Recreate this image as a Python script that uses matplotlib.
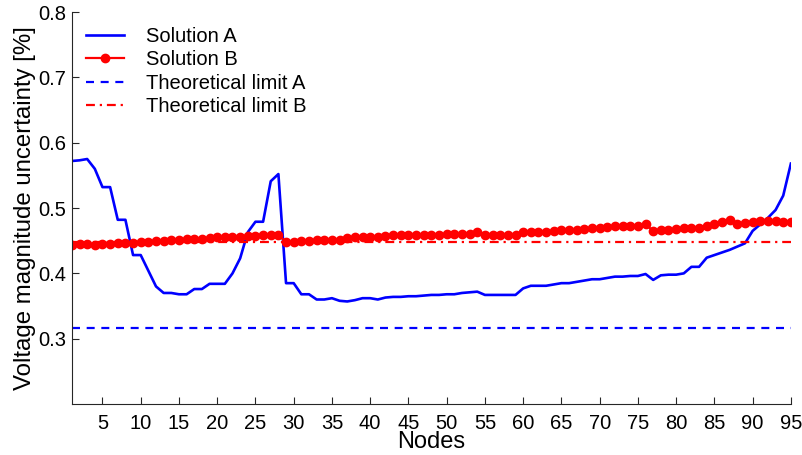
import numpy as np
import matplotlib
matplotlib.use("Agg")
import matplotlib.pyplot as plt

plt.rcParams['font.family'] = ['Liberation Sans', 'DejaVu Sans']

# voltage magnitude uncertainty per node [%]
nodes = np.arange(1, 96)

sol_a = [0.572, 0.573, 0.575, 0.560, 0.532, 0.532, 0.482, 0.482, 0.428, 0.428,
         0.404, 0.380, 0.370, 0.370, 0.368, 0.368, 0.376, 0.376, 0.384, 0.384,
         0.384, 0.400, 0.423, 0.463, 0.479, 0.479, 0.541, 0.552, 0.385, 0.385,
         0.368, 0.368, 0.360, 0.360, 0.362, 0.358, 0.357, 0.359, 0.362, 0.362,
         0.360, 0.363, 0.364, 0.364, 0.365, 0.365, 0.366, 0.367, 0.367, 0.368,
         0.368, 0.370, 0.371, 0.372, 0.367, 0.367, 0.367, 0.367, 0.367, 0.377,
         0.381, 0.381, 0.381, 0.383, 0.385, 0.385, 0.387, 0.389, 0.391, 0.391,
         0.393, 0.395, 0.395, 0.396, 0.396, 0.399, 0.390, 0.397, 0.398, 0.398,
         0.400, 0.410, 0.410, 0.424, 0.428, 0.432, 0.436, 0.441, 0.446, 0.465,
         0.475, 0.485, 0.497, 0.519, 0.568]

sol_b = [0.443, 0.445, 0.445, 0.444, 0.445, 0.445, 0.446, 0.446, 0.447, 0.448,
         0.448, 0.449, 0.450, 0.451, 0.451, 0.452, 0.452, 0.453, 0.454, 0.455,
         0.455, 0.456, 0.456, 0.457, 0.457, 0.458, 0.458, 0.459, 0.448, 0.448,
         0.449, 0.449, 0.451, 0.451, 0.451, 0.451, 0.454, 0.455, 0.456, 0.456,
         0.456, 0.457, 0.458, 0.458, 0.458, 0.458, 0.459, 0.459, 0.459, 0.460,
         0.460, 0.461, 0.461, 0.463, 0.459, 0.458, 0.458, 0.458, 0.458, 0.463,
         0.464, 0.464, 0.464, 0.465, 0.466, 0.466, 0.467, 0.468, 0.469, 0.470,
         0.471, 0.472, 0.473, 0.473, 0.473, 0.475, 0.465, 0.467, 0.467, 0.468,
         0.469, 0.470, 0.470, 0.473, 0.476, 0.479, 0.481, 0.476, 0.477, 0.479,
         0.480, 0.480, 0.480, 0.479, 0.479]

limit_a = 0.316
limit_b = 0.448

xticks = np.arange(5, 96, 5)
yticks = [0.3, 0.4, 0.5, 0.6, 0.7, 0.8]

fig = plt.figure(figsize=(8.03, 4.55), dpi=100)
ax = fig.add_axes([0.0895, 0.112, 0.8954, 0.8616])

ax.plot(nodes, sol_a, color='#0000ff', lw=1.9, label='Solution A')
ax.plot(nodes, sol_b, color='#ff0000', lw=1.6, marker='o', ms=6,
        label='Solution B')
ax.plot(nodes, np.full(len(nodes), limit_a), color='#0000ff', lw=1.6,
        ls=(0, (3.6, 3.0)), label='Theoretical limit A')
ax.plot(nodes, np.full(len(nodes), limit_b), color='#ff0000', lw=1.6,
        ls=(0, (4.0, 2.2, 1.0, 2.2)), label='Theoretical limit B')

ax.set_xlim(1, 95)
ax.set_ylim(0.2, 0.8)
ax.set_xticks(xticks)
ax.set_yticks(yticks)
ax.set_yticklabels(['%.1f' % v for v in yticks])

for side in ['top', 'right']:
    ax.spines[side].set_visible(False)
for side in ['left', 'bottom']:
    ax.spines[side].set_color('#262626')
    ax.spines[side].set_linewidth(0.8)
ax.tick_params(direction='in', length=5, width=0.8, color='#262626',
               labelsize=14.5)
ax.tick_params(axis='x', pad=7)
ax.tick_params(axis='y', pad=4)

ax.set_xlabel('Nodes', fontsize=17, labelpad=-1)
ax.set_ylabel('Voltage magnitude uncertainty [%]', fontsize=17.3, labelpad=2)

ax.legend(loc='upper left', bbox_to_anchor=(0.019, 0.962), frameon=False,
          fontsize=14.5, handlelength=1.9, handletextpad=1.1,
          labelspacing=0.22, borderaxespad=0, borderpad=0)

fig.savefig('out.png', dpi=100)
